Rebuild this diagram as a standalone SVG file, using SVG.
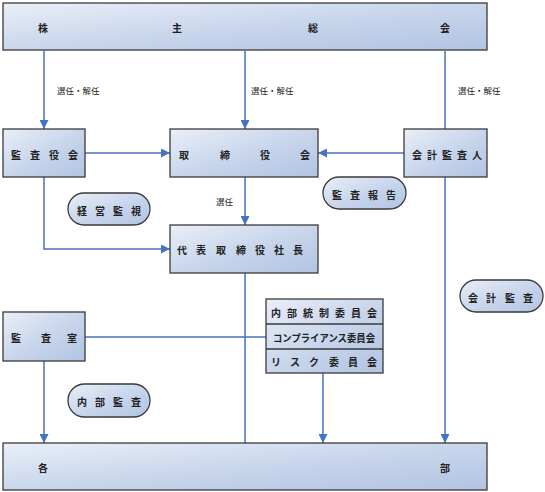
<svg xmlns="http://www.w3.org/2000/svg" width="545" height="492" viewBox="0 0 545 492">
<defs>
<linearGradient id="g" x1="0" y1="0" x2="1" y2="1">
<stop offset="0" stop-color="#eaeff8"/>
<stop offset="0.5" stop-color="#c9d6ec"/>
<stop offset="1" stop-color="#b1c4e2"/>
</linearGradient>
<marker id="ah" viewBox="0 0 10 10" refX="10" refY="5" markerWidth="9" markerHeight="9" markerUnits="userSpaceOnUse" orient="auto">
<path d="M0,0 L10,5 L0,10 z" fill="#4472c4"/>
</marker>
</defs>
<style>
.b{fill:url(#g);stroke:#3a3a3a;stroke-width:1.3}
.t{font-family:"Noto Sans CJK JP","Noto Sans CJK SC",sans-serif;font-size:10px;font-weight:700;fill:#222;text-anchor:middle;dominant-baseline:central}
.l{font-family:"Noto Sans CJK JP","Noto Sans CJK SC",sans-serif;font-size:8.5px;fill:#222;dominant-baseline:central}
.c{fill:none;stroke:#4472c4;stroke-width:1.5}
.a{marker-end:url(#ah)}
</style>
<g id="connectors">
<path class="c a" d="M44,51 V129"/>
<path class="c a" d="M245,51 V129"/>
<path class="c" d="M445,51 V129"/>
<path class="c a" d="M85,153 H170"/>
<path class="c a" d="M404,153 H318"/>
<path class="c a" d="M245,177 V225"/>
<path class="c a" d="M44,177 V249 H170"/>
<path class="c" d="M245,273 V443"/>
<path class="c" d="M85,337 H266"/>
<path class="c a" d="M44,361 V443"/>
<path class="c a" d="M323,373 V443"/>
<path class="c a" d="M445,177 V443"/>
</g>
<g id="labels">
<text class="l" x="57" y="90">選任・解任</text>
<text class="l" x="251" y="90">選任・解任</text>
<text class="l" x="458" y="90">選任・解任</text>
<text class="l" x="216" y="201">選任</text>
</g>
<g id="shareholders">
<rect class="b" x="3" y="3" width="484" height="47"/>
<text class="t" y="27"><tspan x="43">株</tspan><tspan x="177">主</tspan><tspan x="313">総</tspan><tspan x="445">会</tspan></text>
</g>
<g id="auditboard">
<rect class="b" x="3" y="129" width="82" height="48"/>
<text class="t" y="154"><tspan x="16">監</tspan><tspan x="35">査</tspan><tspan x="54">役</tspan><tspan x="73">会</tspan></text>
</g>
<g id="board">
<rect class="b" x="170" y="129" width="148" height="48"/>
<text class="t" y="154"><tspan x="184">取</tspan><tspan x="225">締</tspan><tspan x="265">役</tspan><tspan x="305">会</tspan></text>
</g>
<g id="accountant">
<rect class="b" x="404" y="129" width="83" height="48"/>
<text class="t" y="154"><tspan x="417">会</tspan><tspan x="432">計</tspan><tspan x="447">監</tspan><tspan x="462">査</tspan><tspan x="477">人</tspan></text>
</g>
<g id="president">
<rect class="b" x="170" y="225" width="148" height="48"/>
<text class="t" y="249"><tspan x="182">代</tspan><tspan x="201">表</tspan><tspan x="221">取</tspan><tspan x="241">締</tspan><tspan x="260">役</tspan><tspan x="279">社</tspan><tspan x="298">長</tspan></text>
</g>
<g id="monitor">
<rect class="b" x="68" y="193" width="82" height="32" rx="16"/>
<text class="t" y="209.5"><tspan x="82">経</tspan><tspan x="100">営</tspan><tspan x="118">監</tspan><tspan x="136">視</tspan></text>
</g>
<g id="auditreport">
<rect class="b" x="323" y="177" width="83" height="32" rx="16"/>
<text class="t" y="193.5"><tspan x="337">監</tspan><tspan x="355">査</tspan><tspan x="373">報</tspan><tspan x="391">告</tspan></text>
</g>
<g id="accountaudit">
<rect class="b" x="460" y="280" width="83" height="32" rx="16"/>
<text class="t" y="296.5"><tspan x="473">会</tspan><tspan x="491">計</tspan><tspan x="510">監</tspan><tspan x="528">査</tspan></text>
</g>
<g id="auditoffice">
<rect class="b" x="3" y="312" width="82" height="49"/>
<text class="t" y="337"><tspan x="16">監</tspan><tspan x="46">査</tspan><tspan x="72">室</tspan></text>
</g>
<g id="committees">
<rect class="b" x="266" y="299" width="117" height="74"/>
<line x1="266" y1="324" x2="383" y2="324" stroke="#3a3a3a" stroke-width="1.3"/>
<line x1="266" y1="349" x2="383" y2="349" stroke="#3a3a3a" stroke-width="1.3"/>
<text class="t" y="312"><tspan x="276">内</tspan><tspan x="292">部</tspan><tspan x="308">統</tspan><tspan x="324">制</tspan><tspan x="340">委</tspan><tspan x="356">員</tspan><tspan x="372">会</tspan></text>
<text class="t" x="324" y="337" textLength="102" lengthAdjust="spacingAndGlyphs" style="font-size:10px">コンプライアンス委員会</text>
<text class="t" y="361"><tspan x="276">リ</tspan><tspan x="295">ス</tspan><tspan x="314">ク</tspan><tspan x="334">委</tspan><tspan x="353">員</tspan><tspan x="372">会</tspan></text>
</g>
<g id="internalaudit">
<rect class="b" x="68" y="384" width="82" height="33" rx="16.5"/>
<text class="t" y="401"><tspan x="82">内</tspan><tspan x="100">部</tspan><tspan x="118">監</tspan><tspan x="136">査</tspan></text>
</g>
<g id="departments">
<rect class="b" x="3" y="443" width="484" height="47"/>
<text class="t" y="467"><tspan x="43">各</tspan><tspan x="445">部</tspan></text>
</g>
</svg>
